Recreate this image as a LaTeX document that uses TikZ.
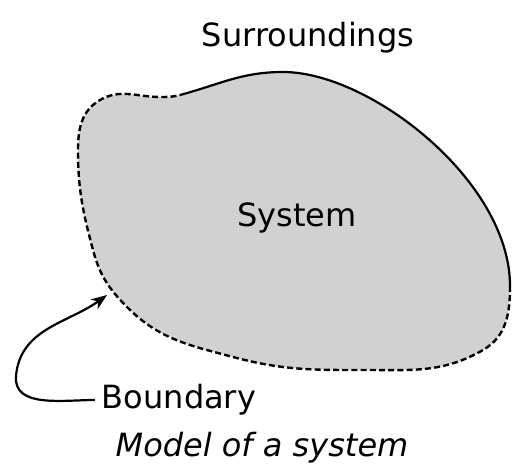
\documentclass[tikz,border=0pt]{standalone}
\usepackage{fontspec}
\setmainfont{DejaVu Sans}
\usetikzlibrary{arrows.meta}
\begin{document}
\begin{tikzpicture}[x=0.5pt, y=0.5pt, font=\fontsize{16}{19}\selectfont]
\useasboundingbox (0,0) rectangle (512,471);
\coordinate (S1) at (180,376); \coordinate (Top) at (283,399); \coordinate (E) at (510,185);
\coordinate (B1) at (483,121); \coordinate (B2) at (367,101); \coordinate (B3) at (233,114); \coordinate (L1) at (127,164); \coordinate (L2) at (93,221); \coordinate (L3) at (78,321); \coordinate (C1) at (100,371); \coordinate (C2) at (160,374);
\fill[black!18] (S1) to[out=15,in=180] (Top) .. controls (370,399) and (510,290) .. (E) to[out=-90,in=30] (B1) to[out=-150,in=0] (B2) to[out=180,in=-15] (B3) to[out=165,in=-45] (L1) to[out=135,in=-75] (L2) to[out=105,in=-90] (L3) to[out=90,in=-150] (C1) to[out=30,in=180] (C2) to[out=0,in=195] (S1) -- cycle;
\draw[line width=1.1pt] (S1) to[out=15,in=180] (Top) .. controls (370,399) and (510,290) .. (E);
\draw[line width=1.2pt, dash pattern=on 3pt off 1.6pt] (E) to[out=-90,in=30] (B1) to[out=-150,in=0] (B2) to[out=180,in=-15] (B3) to[out=165,in=-45] (L1) to[out=135,in=-75] (L2) to[out=105,in=-90] (L3) to[out=90,in=-150] (C1) to[out=30,in=180] (C2) to[out=0,in=195] (S1);
\node (sur) at (308,433) {Surroundings}; \node (sys) at (297,253) {System};
\node (bnd) at (179,71) {Boundary}; \node (cap) at (262,23) {\itshape Model of a system};
\coordinate (tip) at (107,176); \coordinate (turn) at (16,95);
\draw[line width=1.1pt, -{Stealth[length=8pt,width=6pt]}] (bnd.west) to[out=180,in=-95] (turn) to[out=85,in=-144] (tip);
\end{tikzpicture}
\end{document}
